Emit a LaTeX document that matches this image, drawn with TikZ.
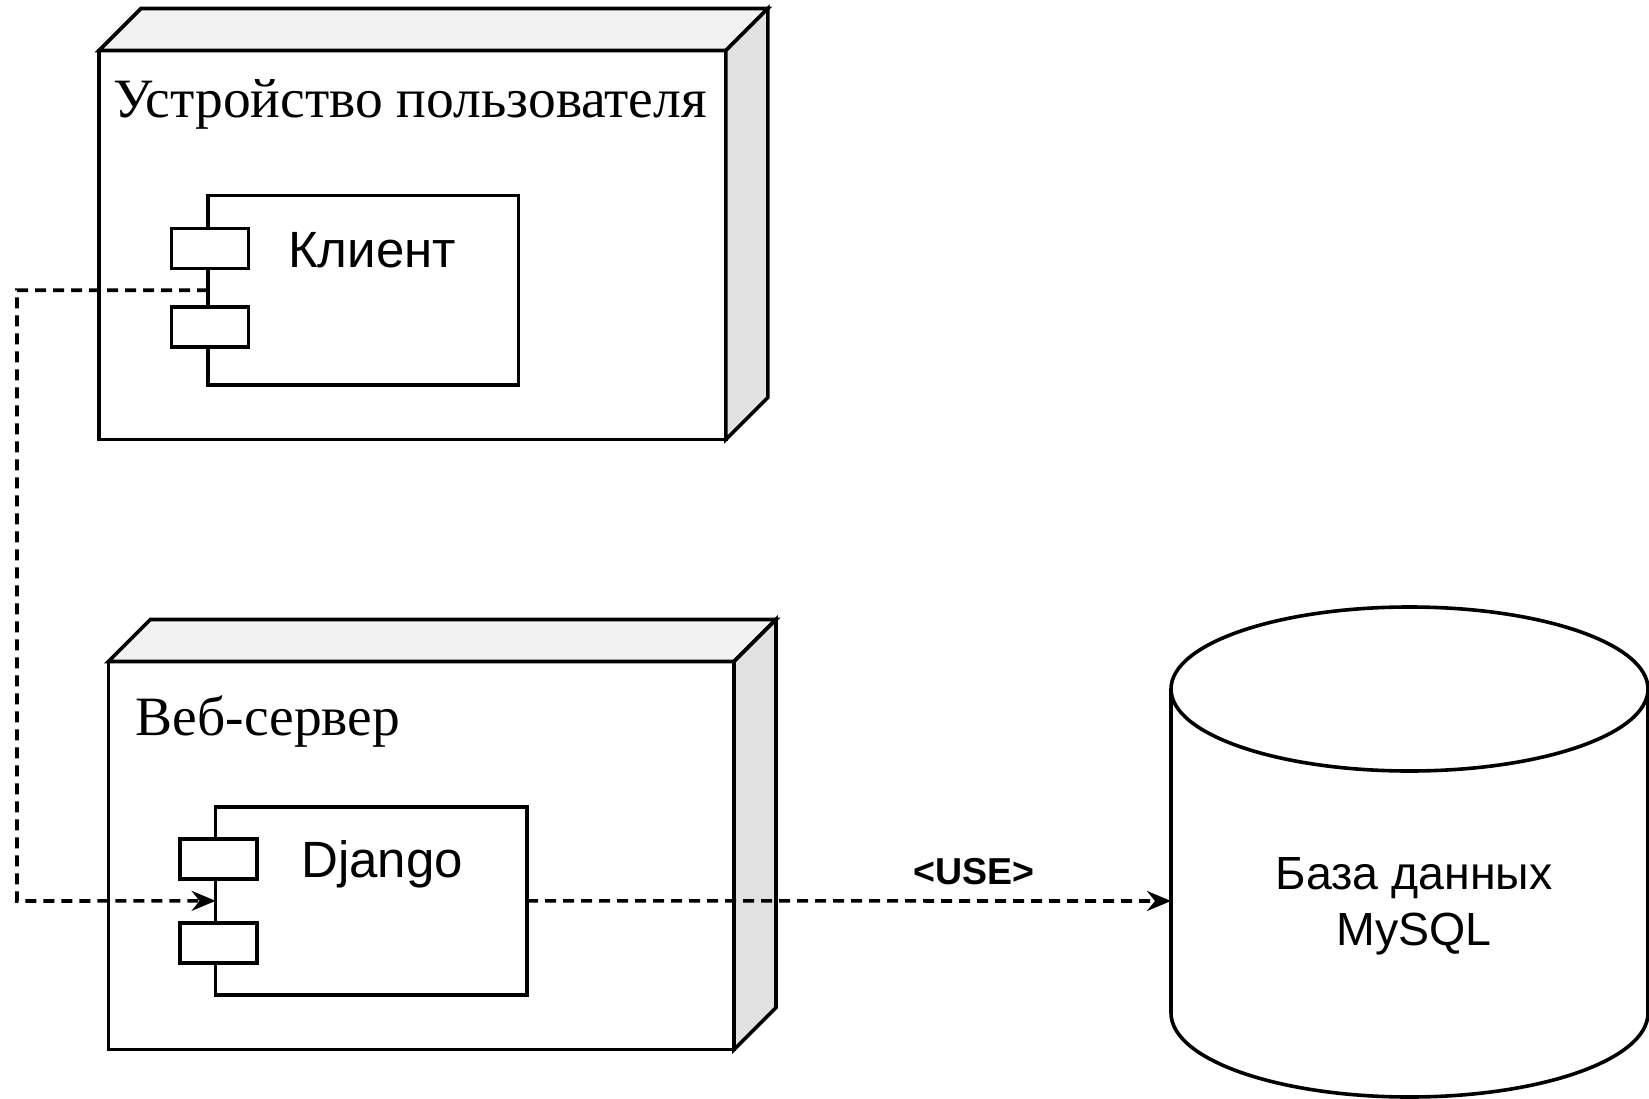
\documentclass[tikz,border=0pt]{standalone}
\usepackage{fontspec}
\setmainfont{Liberation Serif}
\newfontfamily\arialf{Liberation Sans}
\usetikzlibrary{arrows.meta,calc}
\tikzset{
  ln/.style={line width=3.6pt, draw=black, line join=miter},
  front/.style={ln, fill=white, rectangle, outer sep=0pt, inner sep=0pt, anchor=north west},
  topface/.style={ln, fill={rgb,255:red,242;green,242;blue,242}},
  sideface/.style={ln, fill={rgb,255:red,225;green,225;blue,225}},
  comp/.style={ln, fill=white, rectangle, outer sep=0pt, inner sep=0pt},
  port/.style={ln, fill=white, rectangle, outer sep=0pt, inner sep=0pt, minimum width=77pt, minimum height=40pt},
  titletxt/.style={font=\fontsize{55.5}{62}\selectfont, anchor=base west, inner sep=0pt},
  comptxt/.style={font=\arialf\fontsize{51}{58}\selectfont, anchor=base west, inner sep=0pt},
  dep/.style={line width=3.6pt, dash pattern=on 11pt off 7pt, -{Stealth[length=24pt,width=20pt,inset=8pt]}},
}
\begin{document}
\begin{tikzpicture}[x=1pt,y=-1pt]
\useasboundingbox (0,0) rectangle (1649,1099);
\fill[white] (0,0) rectangle (1649,1099);
\clip (0,0) rectangle (1649,1099);

% Node 1: user device
\node[front, minimum width=626.8pt, minimum height=389.1pt] (n1) at (99,50.5) {};
\filldraw[topface] (n1.north west) -- ++(42,-42) -- ([shift={(42pt,42pt)}]n1.north east) -- (n1.north east) -- cycle;
\filldraw[sideface] (n1.north east) -- ++(42,-42) -- ([shift={(42pt,42pt)}]n1.south east) -- (n1.south east) -- cycle;
\node[titletxt] (t1) at (113,118) {Устройство пользователя};

% Client component
\node[comp, minimum width=310.5pt, minimum height=189.4pt, anchor=north west] (cl) at (208,195.6) {};
\node[port] (cl1) at (209.8,248.5) {};
\node[port] (cl2) at (209.8,327) {};
\node[comptxt] (clt) at (288,268) {Клиент};

% Node 2: web server
\node[front, minimum width=625.7pt, minimum height=388.1pt] (n2) at (108.3,661.5) {};
\filldraw[topface] (n2.north west) -- ++(42,-42) -- ([shift={(42pt,42pt)}]n2.north east) -- (n2.north east) -- cycle;
\filldraw[sideface] (n2.north east) -- ++(42,-42) -- ([shift={(42pt,42pt)}]n2.south east) -- (n2.south east) -- cycle;
\node[titletxt] (t2) at (135.5,735) {Веб-сервер};

% Django component
\node[comp, minimum width=311.4pt, minimum height=188.3pt, anchor=north west] (dj) at (215.6,806.7) {};
\node[port] (dj1) at (218.2,859) {};
\node[port] (dj2) at (218.2,943) {};
\node[comptxt] (djt) at (301,877) {Django};

% Database cylinder
\coordinate (dbl) at (1171,689);
\coordinate (dbr) at (1648,689);
\filldraw[ln, fill=white] (dbl) -- (1171,1013) arc[start angle=180, end angle=360, x radius=238.5pt, y radius=84pt] -- (dbr) arc[start angle=0, end angle=180, x radius=238.5pt, y radius=82pt] -- cycle;
\draw[ln] (dbl) arc[start angle=180, end angle=360, x radius=238.5pt, y radius=82pt];
\node[font=\arialf\fontsize{46.5}{56}\selectfont, align=center, inner sep=0pt] (db) at (1414,906) {База данных\\MySQL};
\coordinate (dbin) at (1171,901);

% Connectors
\coordinate (bend) at (17,901);
\draw[dep] (cl.west) -| (bend) -- (dj.west);
\draw[dep] (dj.east) -- (dbin);
\node[font=\arialf\bfseries\fontsize{37.5}{44}\selectfont, inner sep=0pt] (use) at (974,872) {<USE>};
\end{tikzpicture}
\end{document}
